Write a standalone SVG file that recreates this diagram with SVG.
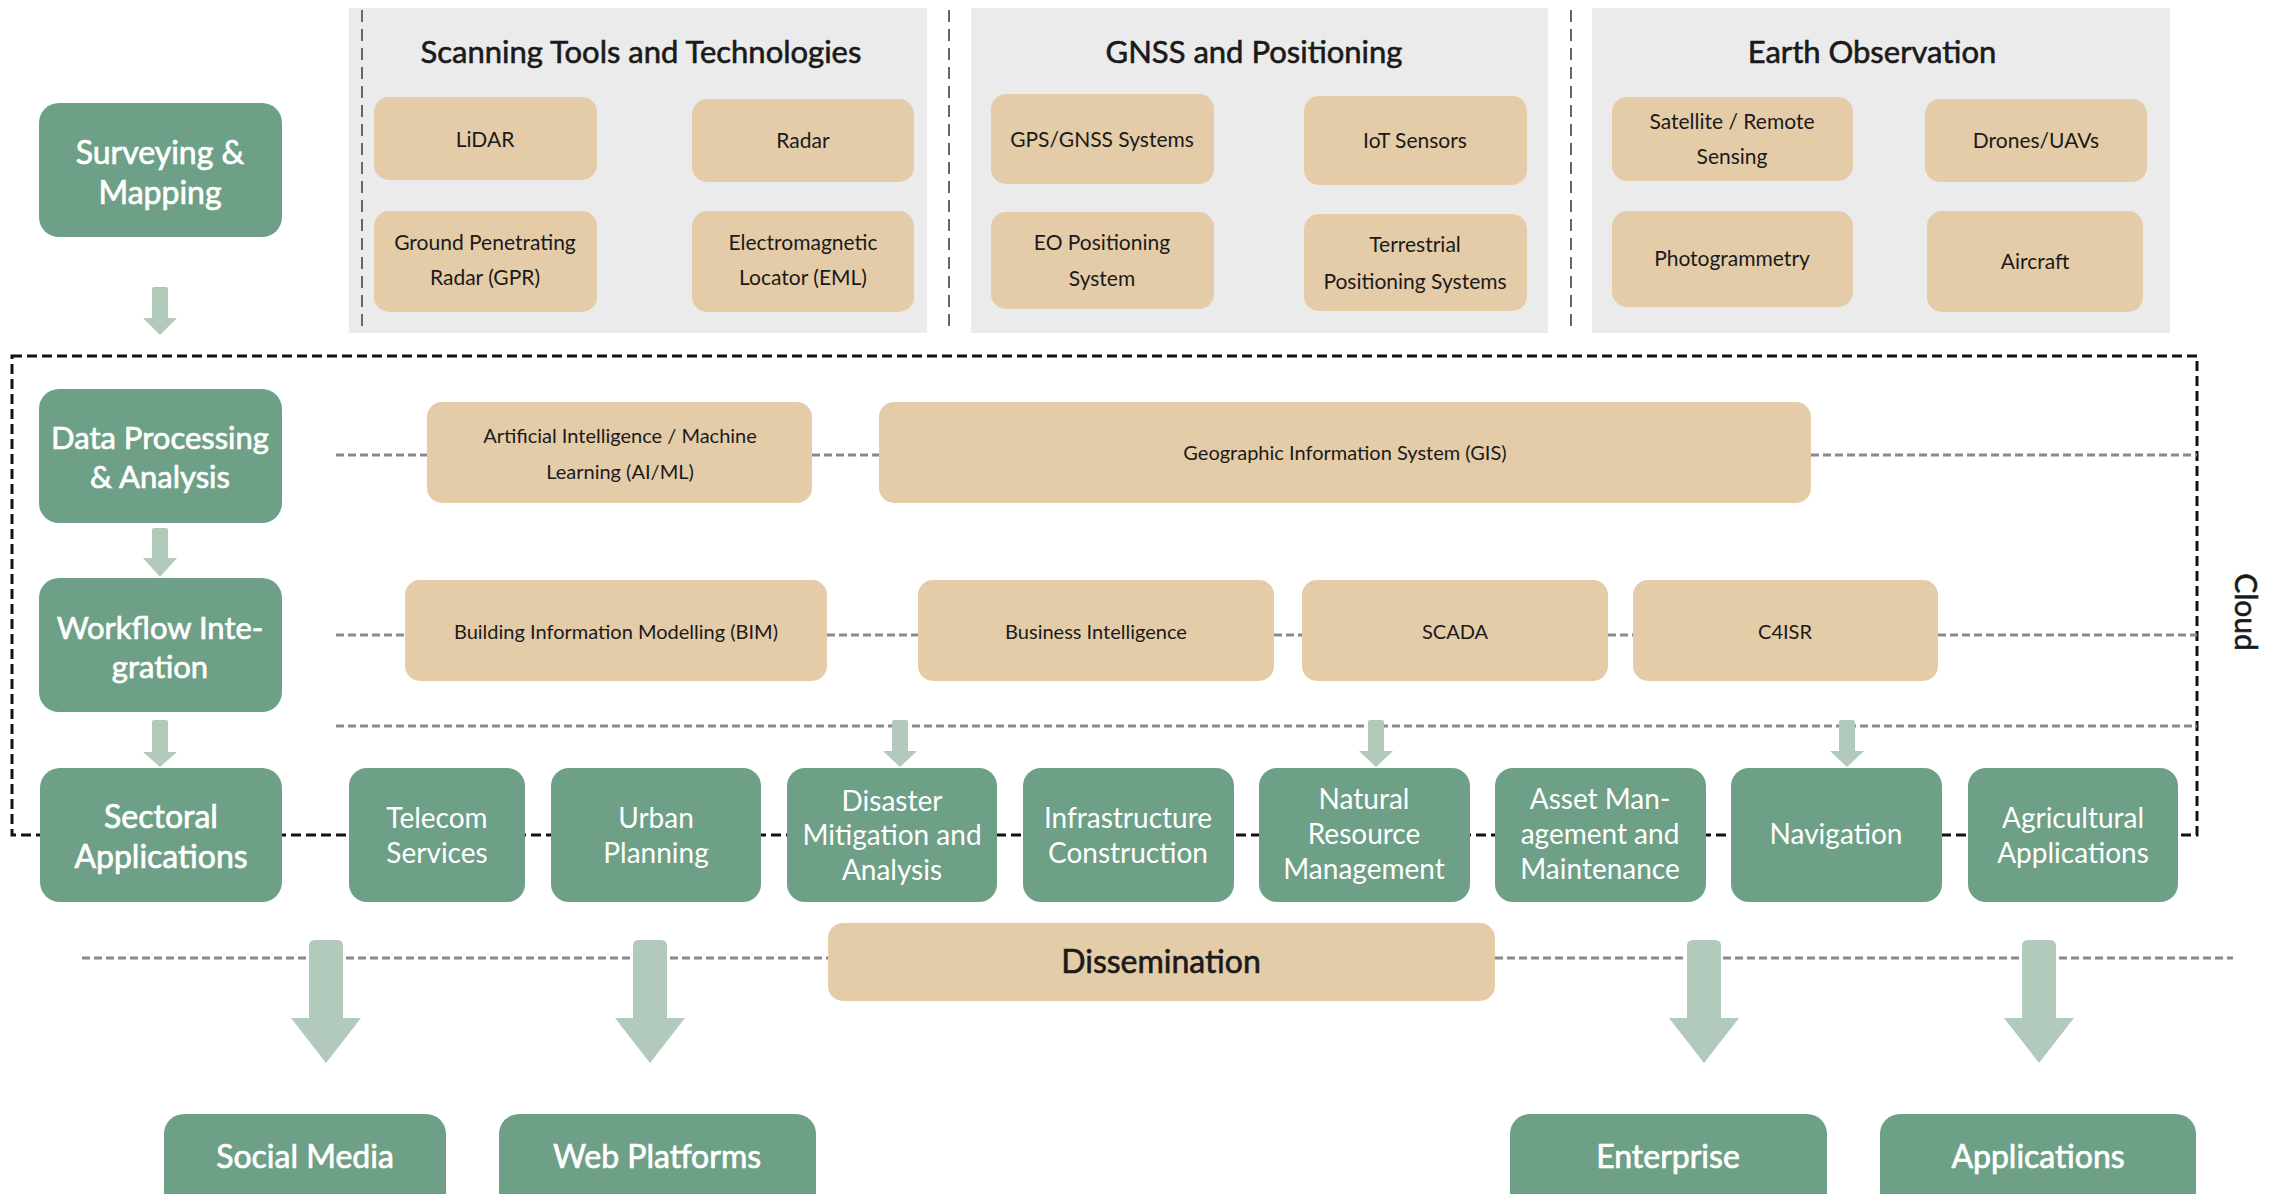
<svg xmlns="http://www.w3.org/2000/svg" width="2282" height="1194" viewBox="0 0 2282 1194">
<style>
.g{fill:#6ea087}
.t{fill:#e5cca8}
.p{fill:#ebebeb}
.a{fill:#b2cabb}
.wt{font-family:Lato,"Open Sans","DejaVu Sans",sans-serif;fill:#ffffff;text-anchor:middle}
.bt{font-family:Lato,"Open Sans","DejaVu Sans",sans-serif;fill:#1a1a1a;text-anchor:middle}
.wm{stroke:#ffffff;stroke-width:0.7}
.bm{stroke:#1a1a1a;stroke-width:0.6}
.dg{stroke:#8a8a8a;stroke-width:3;stroke-dasharray:8 4;fill:none}
.dv{stroke:#666;stroke-width:2;stroke-dasharray:12 7;fill:none}
.dk{stroke:#111;stroke-width:3;stroke-dasharray:10 5;fill:none}
</style>
<rect width="2282" height="1194" fill="#ffffff"/>

<g id="panels">
<rect class="p" x="349" y="8" width="578" height="325"/>
<rect class="p" x="971" y="8" width="577" height="325"/>
<rect class="p" x="1592" y="8" width="578" height="325"/>
<line class="dv" x1="362" y1="10" x2="362" y2="328"/>
<line class="dv" x1="949" y1="10" x2="949" y2="328"/>
<line class="dv" x1="1571" y1="10" x2="1571" y2="328"/>
<text class="bt bm" x="641" y="63" font-size="31">Scanning Tools and Technologies</text>
<text class="bt bm" x="1254" y="63" font-size="31">GNSS and Positioning</text>
<text class="bt bm" x="1872" y="63" font-size="31">Earth Observation</text>
</g>

<g id="connectors">
<rect class="dk" x="12" y="356" width="2185" height="479"/>
<path class="dg" d="M336 455H427M812 455H879M1811 455H2197"/>
<path class="dg" d="M336 635H405M827 635H918M1274 635H1302M1608 635H1633M1938 635H2197"/>
<path class="dg" d="M336 726H2197"/>
<path class="dg" d="M82 958H828M1495 958H2233"/>
<path class="a" d="M152 289Q152 287 154 287H166Q168 287 168 289V318H177L160 335L143 318H152Z"/>
<path class="a" d="M152 530Q152 528 154 528H166Q168 528 168 530V558H177L160 577L143 558H152Z"/>
<path class="a" d="M152 722Q152 720 154 720H166Q168 720 168 722V752H177L160 767L143 752H152Z"/>
<path class="a" d="M892 722Q892 720 894 720H906Q908 720 908 722V751H917L900 767L883 751H892Z"/>
<path class="a" d="M1368 722Q1368 720 1370 720H1382Q1384 720 1384 722V751H1393L1376 767L1359 751H1368Z"/>
<path class="a" d="M1839 722Q1839 720 1841 720H1853Q1855 720 1855 722V751H1864L1847 767L1830 751H1839Z"/>
<path class="a" d="M309 946Q309 940 315 940H337Q343 940 343 946V1018H361L326 1063L291 1018H309Z"/>
<path class="a" d="M633 946Q633 940 639 940H661Q667 940 667 946V1018H685L650 1063L615 1018H633Z"/>
<path class="a" d="M1687 946Q1687 940 1693 940H1715Q1721 940 1721 946V1018H1739L1704 1063L1669 1018H1687Z"/>
<path class="a" d="M2022 946Q2022 940 2028 940H2050Q2056 940 2056 946V1018H2074L2039 1063L2004 1018H2022Z"/>
</g>

<g id="surveying"><rect class="g" x="39" y="103" width="243" height="134" rx="20"/>
<text class="wt wm" x="160" y="164" font-size="32">Surveying &amp;</text><text class="wt wm" x="160" y="204" font-size="32">Mapping</text></g>
<g id="dataproc"><rect class="g" x="39" y="389" width="243" height="134" rx="20"/>
<text class="wt wm" x="160" y="449" font-size="31">Data Processing</text><text class="wt wm" x="160" y="488" font-size="31">&amp; Analysis</text></g>
<g id="workflow"><rect class="g" x="39" y="578" width="243" height="134" rx="20"/>
<text class="wt wm" x="160" y="639" font-size="31">Workflow Inte-</text><text class="wt wm" x="160" y="678" font-size="31">gration</text></g>
<g id="sectoral"><rect class="g" x="40" y="768" width="242" height="134" rx="20"/>
<text class="wt wm" x="161" y="828" font-size="32">Sectoral</text><text class="wt wm" x="161" y="868" font-size="32">Applications</text></g>

<g id="lidar"><rect class="t" x="374" y="97" width="223" height="83" rx="15"/><text class="bt" x="485" y="147" font-size="21">LiDAR</text></g>
<g id="radar"><rect class="t" x="692" y="99" width="222" height="83" rx="15"/><text class="bt" x="803" y="148" font-size="21">Radar</text></g>
<g id="gpr"><rect class="t" x="374" y="211" width="223" height="101" rx="15"/><text class="bt" x="485" y="250" font-size="21">Ground Penetrating</text><text class="bt" x="485" y="285" font-size="21">Radar (GPR)</text></g>
<g id="eml"><rect class="t" x="692" y="211" width="222" height="101" rx="15"/><text class="bt" x="803" y="250" font-size="21">Electromagnetic</text><text class="bt" x="803" y="285" font-size="21">Locator (EML)</text></g>

<g id="gps"><rect class="t" x="991" y="94" width="223" height="90" rx="15"/><text class="bt" x="1102" y="147" font-size="21">GPS/GNSS Systems</text></g>
<g id="iot"><rect class="t" x="1304" y="96" width="223" height="89" rx="15"/><text class="bt" x="1415" y="148" font-size="21">IoT Sensors</text></g>
<g id="eo"><rect class="t" x="991" y="212" width="223" height="97" rx="15"/><text class="bt" x="1102" y="250" font-size="21">EO Positioning</text><text class="bt" x="1102" y="286" font-size="21">System</text></g>
<g id="terrestrial"><rect class="t" x="1304" y="214" width="223" height="97" rx="15"/><text class="bt" x="1415" y="252" font-size="21">Terrestrial</text><text class="bt" x="1415" y="289" font-size="21">Positioning Systems</text></g>

<g id="satellite"><rect class="t" x="1612" y="97" width="241" height="84" rx="15"/><text class="bt" x="1732" y="129" font-size="21">Satellite / Remote</text><text class="bt" x="1732" y="164" font-size="21">Sensing</text></g>
<g id="drones"><rect class="t" x="1925" y="99" width="222" height="83" rx="15"/><text class="bt" x="2036" y="148" font-size="21">Drones/UAVs</text></g>
<g id="photogrammetry"><rect class="t" x="1612" y="211" width="241" height="96" rx="15"/><text class="bt" x="1732" y="266" font-size="21">Photogrammetry</text></g>
<g id="aircraft"><rect class="t" x="1927" y="211" width="216" height="101" rx="15"/><text class="bt" x="2035" y="269" font-size="21">Aircraft</text></g>

<g id="aiml"><rect class="t" x="427" y="402" width="385" height="101" rx="15"/><text class="bt" x="620" y="443" font-size="20">Artificial Intelligence / Machine</text><text class="bt" x="620" y="479" font-size="20">Learning (AI/ML)</text></g>
<g id="gis"><rect class="t" x="879" y="402" width="932" height="101" rx="15"/><text class="bt" x="1345" y="460" font-size="20">Geographic Information System (GIS)</text></g>
<g id="bim"><rect class="t" x="405" y="580" width="422" height="101" rx="15"/><text class="bt" x="616" y="639" font-size="20">Building Information Modelling (BIM)</text></g>
<g id="bi"><rect class="t" x="918" y="580" width="356" height="101" rx="15"/><text class="bt" x="1096" y="639" font-size="20">Business Intelligence</text></g>
<g id="scada"><rect class="t" x="1302" y="580" width="306" height="101" rx="15"/><text class="bt" x="1455" y="639" font-size="20">SCADA</text></g>
<g id="c4isr"><rect class="t" x="1633" y="580" width="305" height="101" rx="15"/><text class="bt" x="1785" y="639" font-size="20">C4ISR</text></g>

<g id="telecom"><rect class="g" x="349" y="768" width="176" height="134" rx="18"/><text class="wt" x="437" y="828" font-size="28">Telecom</text><text class="wt" x="437" y="863" font-size="28">Services</text></g>
<g id="urban"><rect class="g" x="551" y="768" width="210" height="134" rx="18"/><text class="wt" x="656" y="828" font-size="28">Urban</text><text class="wt" x="656" y="863" font-size="28">Planning</text></g>
<g id="disaster"><rect class="g" x="787" y="768" width="210" height="134" rx="18"/><text class="wt" x="892" y="811" font-size="28">Disaster</text><text class="wt" x="892" y="845" font-size="28">Mitigation and</text><text class="wt" x="892" y="880" font-size="28">Analysis</text></g>
<g id="infrastructure"><rect class="g" x="1023" y="768" width="211" height="134" rx="18"/><text class="wt" x="1128" y="828" font-size="28">Infrastructure</text><text class="wt" x="1128" y="863" font-size="28">Construction</text></g>
<g id="natural"><rect class="g" x="1259" y="768" width="211" height="134" rx="18"/><text class="wt" x="1364" y="809" font-size="28">Natural</text><text class="wt" x="1364" y="844" font-size="28">Resource</text><text class="wt" x="1364" y="879" font-size="28">Management</text></g>
<g id="asset"><rect class="g" x="1495" y="768" width="211" height="134" rx="18"/><text class="wt" x="1600" y="809" font-size="28">Asset Man-</text><text class="wt" x="1600" y="844" font-size="28">agement and</text><text class="wt" x="1600" y="879" font-size="28">Maintenance</text></g>
<g id="navigation"><rect class="g" x="1731" y="768" width="211" height="134" rx="18"/><text class="wt" x="1836" y="844" font-size="28">Navigation</text></g>
<g id="agricultural"><rect class="g" x="1968" y="768" width="210" height="134" rx="18"/><text class="wt" x="2073" y="828" font-size="28">Agricultural</text><text class="wt" x="2073" y="863" font-size="28">Applications</text></g>

<g id="dissemination"><rect class="t" x="828" y="923" width="667" height="78" rx="15"/><text class="bt bm" x="1161" y="973" font-size="32">Dissemination</text></g>

<g id="social"><rect class="g" x="164" y="1114" width="282" height="110" rx="20"/><text class="wt wm" x="305" y="1168" font-size="32">Social Media</text></g>
<g id="web"><rect class="g" x="499" y="1114" width="317" height="110" rx="20"/><text class="wt wm" x="657" y="1168" font-size="32">Web Platforms</text></g>
<g id="enterprise"><rect class="g" x="1510" y="1114" width="317" height="110" rx="20"/><text class="wt wm" x="1668" y="1168" font-size="32">Enterprise</text></g>
<g id="applications"><rect class="g" x="1880" y="1114" width="316" height="110" rx="20"/><text class="wt wm" x="2038" y="1168" font-size="32">Applications</text></g>

<g id="cloud-label"><text class="bt bm" x="0" y="0" font-size="30" transform="translate(2235 612) rotate(90)">Cloud</text></g>
</svg>
